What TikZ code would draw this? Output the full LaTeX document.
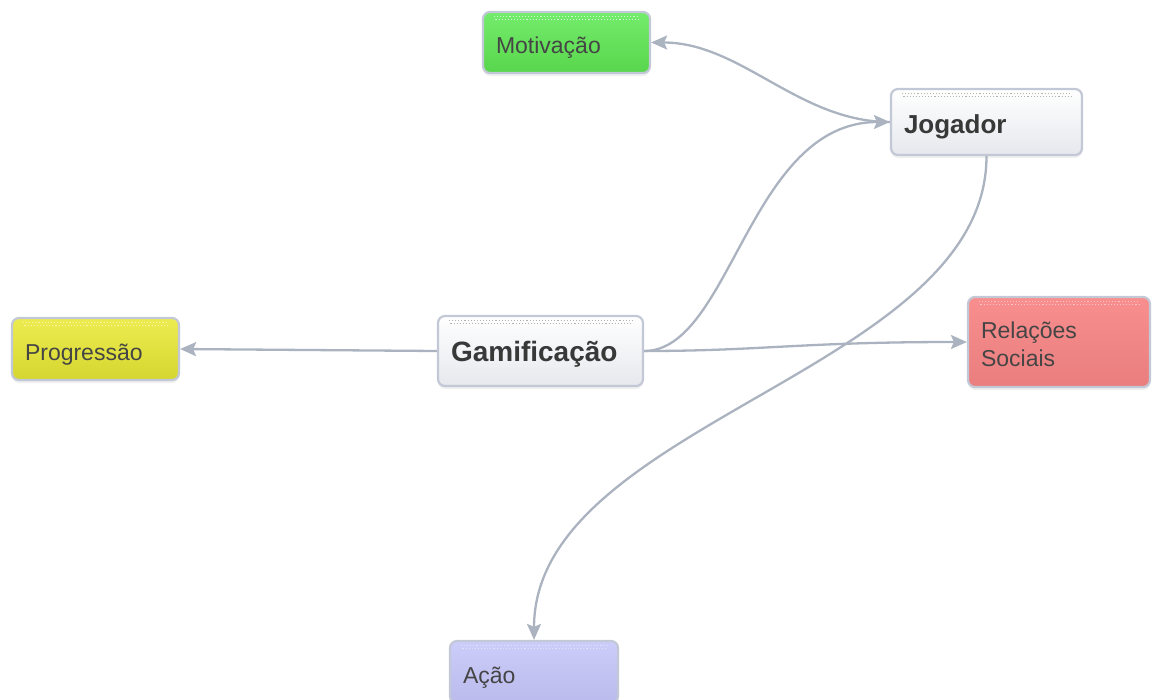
\documentclass[tikz,border=0pt]{standalone}
\usepackage{fontspec}
\setmainfont{Liberation Sans}
\usetikzlibrary{arrows.meta,shadows}

\definecolor{boxline}{HTML}{C3C8D6}
\definecolor{conncol}{HTML}{ABB3C0}
\definecolor{txt}{HTML}{454545}
\definecolor{greenT}{HTML}{74EC6C}
\definecolor{greenB}{HTML}{58D64C}
\definecolor{yellowT}{HTML}{ECEC50}
\definecolor{yellowB}{HTML}{D6D630}
\definecolor{redT}{HTML}{F88E8E}
\definecolor{redB}{HTML}{EA7E7E}
\definecolor{blueT}{HTML}{CDCDFA}
\definecolor{blueB}{HTML}{BABAEC}
\definecolor{whiteB}{HTML}{E6E8ED}

\tikzset{
  box/.style={draw=boxline, line width=2.2pt, rounded corners=7pt,
    inner xsep=13pt, inner ysep=0pt, align=left, text=txt,
    drop shadow={shadow xshift=0pt, shadow yshift=-3pt, opacity=0.12}},
  mainbox/.style={box, top color=white, bottom color=whiteB,
    text height=20pt, text depth=0pt,
    font=\fontsize{26}{29}\selectfont\bfseries, text=black!78},
  subbox/.style={box, text height=22pt, text depth=0pt,
    font=\fontsize{23}{27.7}\selectfont},
  conn/.style={draw=conncol, line width=2.3pt,
    -{Stealth[length=16pt,width=14pt,inset=3pt]}},
  dotrow/.style={line width=1.1pt, dash pattern=on 1.1pt off 2pt}
}

% two rows of fine dots along the top edge of a box
\newcommand{\headerdots}[2]{%
  \draw[dotrow,#2] ([xshift=12pt,yshift=-6pt]#1.north west) -- ([xshift=-12pt,yshift=-6pt]#1.north east);
  \draw[dotrow,#2] ([xshift=13.5pt,yshift=-9pt]#1.north west) -- ([xshift=-12pt,yshift=-9pt]#1.north east);}

\begin{document}
\begin{tikzpicture}[x=1pt,y=-1pt]
\useasboundingbox (0,0) rectangle (1153,699);
\clip (0,0) rectangle (1153,699);

% nodes
\node[subbox, top color=greenT, bottom color=greenB,
  minimum width=167pt, minimum height=61pt, text width=141pt] (mot) at (566.5,42.5) {Motivação};
\node[mainbox, text height=23pt, minimum width=191pt, minimum height=66pt, text width=165pt] (jog) at (986.5,122) {Jogador};
\node[mainbox, minimum width=205pt, minimum height=70pt, text width=179pt,
  font=\fontsize{28}{31}\selectfont\bfseries] (gam) at (540.5,351) {Gamificação};
\node[subbox, top color=redT, bottom color=redB, text height=10pt, text depth=17.4pt,
  minimum width=182pt, minimum height=90pt, text width=156pt] (rel) at (1059,342) {Relações\\Sociais};
\node[subbox, top color=blueT, bottom color=blueB,
  minimum width=168pt, minimum height=62pt, text width=142pt] (aca) at (534,672) {Ação};
\node[subbox, top color=yellowT, bottom color=yellowB,
  minimum width=167pt, minimum height=62pt, text width=141pt] (pro) at (95.5,349) {Progressão};

% dotted header strips
\headerdots{mot}{white!65!greenT}
\headerdots{jog}{black!30}
\headerdots{gam}{black!30}
\headerdots{rel}{white!50!redT}
\headerdots{aca}{white!40!blueT}
\headerdots{pro}{white!50!yellowT}

% connectors
\draw[conn] (gam.west) -- (pro.east);
\draw[conn] (gam.east) .. controls +(117,0) and +(-168,0) .. (rel.west);
\draw[conn] (gam.east) .. controls +(87,0) and +(-141,0) .. (jog.west);
\draw[conn] (jog.west) .. controls +(-91,0) and +(90,0) .. (mot.east);
\draw[conn] (jog.south) .. controls +(0,215) and +(0,-218) .. (aca.north);
\end{tikzpicture}
\end{document}
